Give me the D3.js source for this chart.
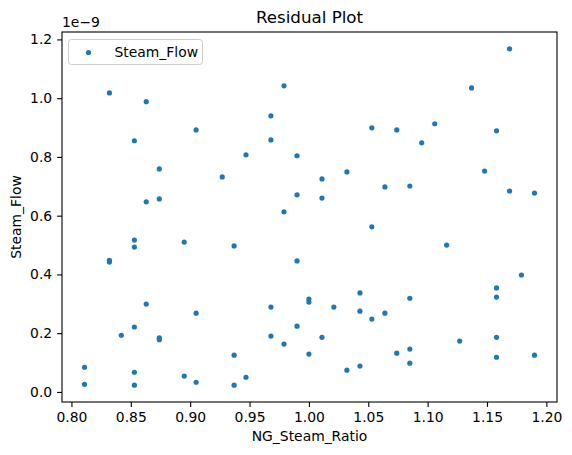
<!DOCTYPE html>
<html>
<head>
<meta charset="utf-8">
<script src="https://cdn.jsdelivr.net/npm/d3@7"></script>
<style>
  body { margin: 0; background: #fff; }
  svg { display: block; font-family: "DejaVu Sans", sans-serif; }
</style>
</head>
<body>
<svg id="chart" width="572" height="455"></svg>
<script>
// NG_Steam_Ratio (x) and Steam_Flow residuals (y, in units of 1e-9)
const ngSteamRatio = [
  0.832, 0.863, 0.853, 0.905, 0.874, 0.927, 0.863, 0.874,
  0.979, 0.968, 0.968, 0.947, 0.990, 1.011, 1.032, 1.053, 1.064, 0.990, 1.011, 0.979,
  1.169, 1.137, 1.074, 1.106, 1.095, 1.158, 1.148, 1.085, 1.169, 1.190,
  0.853, 0.853, 0.895, 0.832, 0.832, 0.863, 0.905, 0.853, 0.842, 0.874, 0.874,
  0.811, 0.853, 0.895, 0.811, 0.905, 0.853,
  0.937, 1.053, 0.990, 1.043, 1.000, 1.000, 0.968, 1.021, 1.043, 1.053, 1.064,
  0.990, 0.968, 1.011, 0.979, 0.937, 1.000, 1.032, 1.043, 0.947, 0.937,
  1.116, 1.179, 1.158, 1.158, 1.085, 1.127, 1.158, 1.074, 1.085, 1.085, 1.158, 1.190
]
const steamFlow = [
  1.018, 0.988, 0.855, 0.892, 0.759, 0.732, 0.647, 0.657,
  1.042, 0.940, 0.858, 0.807, 0.804, 0.725, 0.749, 0.899, 0.698, 0.671, 0.660, 0.613,
  1.168, 1.035, 0.892, 0.913, 0.848, 0.889, 0.752, 0.701, 0.684, 0.677,
  0.517, 0.493, 0.510, 0.448, 0.442, 0.299, 0.268, 0.221, 0.193, 0.184, 0.178,
  0.084, 0.067, 0.054, 0.026, 0.033, 0.023,
  0.497, 0.562, 0.446, 0.337, 0.316, 0.306, 0.289, 0.289, 0.275, 0.248, 0.268,
  0.224, 0.190, 0.186, 0.163, 0.125, 0.129, 0.074, 0.088, 0.050, 0.023,
  0.500, 0.398, 0.354, 0.323, 0.319, 0.173, 0.186, 0.132, 0.146, 0.098, 0.118, 0.125
]
const xTicks = [0.80, 0.85, 0.90, 0.95, 1.00, 1.05, 1.10, 1.15, 1.20]
const yTicks = [0.0, 0.2, 0.4, 0.6, 0.8, 1.0, 1.2]
const seriesName = 'Steam_Flow'

const points = ngSteamRatio.map((x, i) => ({ x, y: steamFlow[i] }))

const margin = { left: 62, right: 15, top: 32, bottom: 53 }
const width = 572, height = 455
const color = '#1f77b4'
const tickFont = 13.9
const dotR = 2.6

const svg = d3.select('#chart')

// matplotlib-style 5% padding on the data extent
function padded(values) {
  const [lo, hi] = d3.extent(values)
  const pad = (hi - lo) * 0.05
  return [lo - pad, hi + pad]
}

const x = d3.scaleLinear(padded(ngSteamRatio), [margin.left, width - margin.right])
const y = d3.scaleLinear(padded(steamFlow), [height - margin.bottom, margin.top])

const xAxis = d3.axisBottom(x).tickValues(xTicks).tickFormat(d3.format('.2f'))
  .tickSizeInner(4.9).tickSizeOuter(0).tickPadding(4.9)
const yAxis = d3.axisLeft(y).tickValues(yTicks).tickFormat(d3.format('.1f'))
  .tickSizeInner(4.9).tickSizeOuter(0).tickPadding(4.9)

function styleAxis(g) {
  g.select('.domain').remove()
  g.selectAll('line').attr('stroke', '#000').attr('stroke-width', 1.1)
  g.selectAll('text').attr('font-size', tickFont).attr('fill', '#000')
    .attr('font-family', '"DejaVu Sans", sans-serif')
}

svg.append('g')
  .attr('transform', `translate(0,${height - margin.bottom})`)
  .call(xAxis).call(styleAxis)

svg.append('g')
  .attr('transform', `translate(${margin.left},0)`)
  .call(yAxis).call(styleAxis)

// points
svg.append('g')
  .selectAll('circle')
  .data(points)
  .join('circle')
  .attr('cx', (d) => x(d.x))
  .attr('cy', (d) => y(d.y))
  .attr('r', dotR)
  .attr('fill', color)

// frame
svg.append('rect')
  .attr('x', margin.left)
  .attr('y', margin.top)
  .attr('width', width - margin.left - margin.right)
  .attr('height', height - margin.top - margin.bottom)
  .attr('fill', 'none')
  .attr('stroke', '#000')
  .attr('stroke-width', 1.1)

const cx = (margin.left + width - margin.right) / 2

svg.append('text')
  .attr('x', cx).attr('y', 23)
  .attr('text-anchor', 'middle')
  .attr('font-size', 16.7)
  .text('Residual Plot')

svg.append('text')
  .attr('x', margin.left).attr('y', 27)
  .attr('font-size', tickFont)
  .text('1e\u22129')

svg.append('text')
  .attr('x', cx).attr('y', 441)
  .attr('text-anchor', 'middle')
  .attr('font-size', tickFont)
  .text('NG_Steam_Ratio')

svg.append('text')
  .attr('transform', `translate(21,${(margin.top + height - margin.bottom) / 2}) rotate(-90)`)
  .attr('text-anchor', 'middle')
  .attr('font-size', tickFont)
  .text(seriesName)

// legend
const legend = svg.append('g').attr('transform', 'translate(68.5,39.5)')
legend.append('rect')
  .attr('width', 134).attr('height', 25)
  .attr('rx', 3)
  .attr('fill', '#fff').attr('fill-opacity', 0.8)
  .attr('stroke', '#ccc').attr('stroke-width', 1)
legend.append('circle')
  .attr('cx', 20).attr('cy', 13).attr('r', dotR).attr('fill', color)
legend.append('text')
  .attr('x', 46).attr('y', 17.5)
  .attr('font-size', tickFont)
  .text(seriesName)
</script>
</body>
</html>
